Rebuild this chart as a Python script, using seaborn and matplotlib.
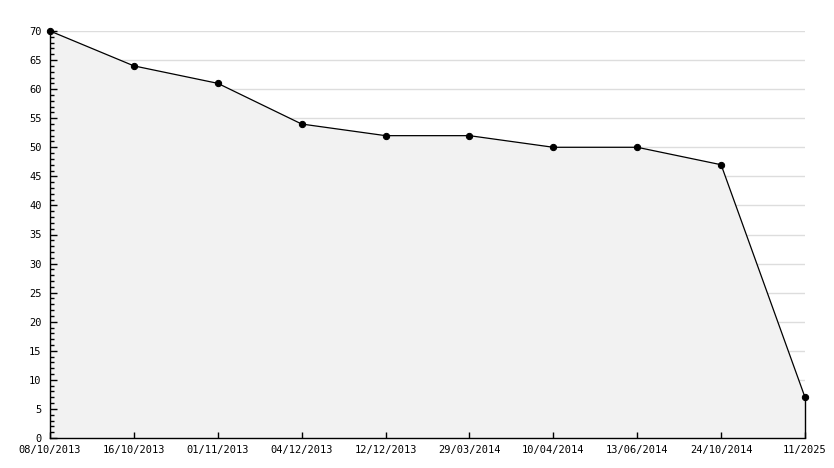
import numpy as np
import pandas as pd
import seaborn as sns
import matplotlib.pyplot as plt
from matplotlib.ticker import MultipleLocator

# Data
dates = ["08/10/2013", "16/10/2013", "01/11/2013", "04/12/2013", "12/12/2013",
         "29/03/2014", "10/04/2014", "13/06/2014", "24/10/2014", "11/2025"]
values = [70, 64, 61, 54, 52, 52, 50, 50, 47, 7]
grid_levels = list(range(5, 75, 5))

df = pd.DataFrame({"pos": range(len(dates)), "value": values})

sns.set_theme(style="ticks")
plt.rcParams["font.family"] = ["DejaVu Sans Mono", "DejaVu Sans"]

fig = plt.figure(figsize=(8.34, 4.68), dpi=100)
ax = fig.add_axes([50 / 834, 30 / 468, 755 / 834, 407 / 468])

ax.set_xlim(0, len(dates) - 1)
ax.set_ylim(0, 70)

# light gridlines, hidden under the shaded area
ax.hlines(grid_levels, 0, len(dates) - 1, colors="#dddddd", lw=1, zorder=0.1)

# shaded area under the line (opaque, covers the grid)
ax.fill_between(df["pos"], df["value"], 0, facecolor="#f2f2f2",
                edgecolor="none", zorder=1.5)
ax.vlines(df["pos"].iloc[-1], 0, df["value"].iloc[-1], color="black", lw=1,
          zorder=2, clip_on=False)

sns.lineplot(data=df, x="pos", y="value", ax=ax, color="black", lw=0.9,
             marker="o", markersize=4.5, markeredgecolor="black", zorder=3,
             clip_on=False)

ax.set_xticks(df["pos"])
ax.set_xticklabels(dates)
ax.yaxis.set_major_locator(MultipleLocator(5))
ax.yaxis.set_minor_locator(MultipleLocator(1))
ax.set_axisbelow(False)
ax.grid(False)

for s in ["top", "right"]:
    ax.spines[s].set_visible(False)
for s in ["left", "bottom"]:
    ax.spines[s].set_color("black")
    ax.spines[s].set_linewidth(1)

ax.tick_params(axis="y", which="major", direction="in", length=5, width=1,
               labelsize=7.5, colors="black", pad=6, left=True)
ax.tick_params(axis="y", which="minor", direction="in", length=3, width=1,
               left=True, colors="black")
ax.tick_params(axis="x", which="major", direction="in", length=4, width=1,
               labelsize=7.5, colors="black", pad=5, bottom=True)
ax.tick_params(axis="x", which="minor", bottom=False)
ax.set_xlabel("")
ax.set_ylabel("")

fig.savefig("out.png", dpi=100)
